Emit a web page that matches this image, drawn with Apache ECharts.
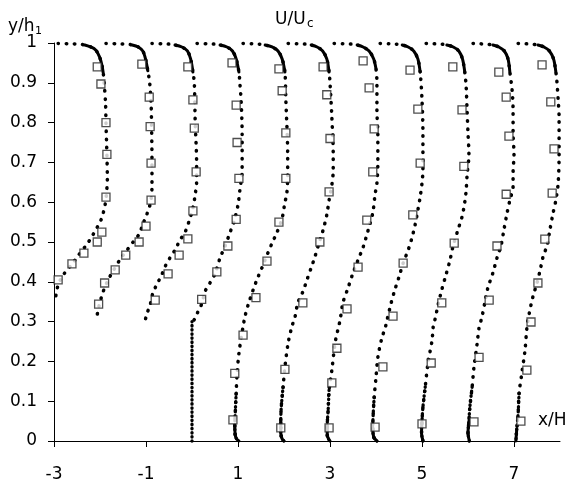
<!DOCTYPE html>
<html>
<head>
<meta charset="utf-8">
<script src="https://cdn.jsdelivr.net/npm/echarts@6/dist/echarts.min.js"></script>
<style>
  html, body { margin: 0; padding: 0; background: #fff; }
  #main { width: 568px; height: 484px; }
</style>
</head>
<body>
<div id="main"></div>
<script>
// measuring stations x/H, each profile is drawn at x = station + U/Uc
const stations = [-3, -2, -1, 0, 1, 2, 3, 4, 5, 6, 7];
const xTicks = [-3, -1, 1, 3, 5, 7];

// computed profiles [U/Uc, y/h1]
const cfdXm3 = [[0.09,0.999],[0.37,0.998],[0.54,0.997],[0.67,0.995],[0.8,0.99],[0.91,0.982],[0.99,0.965],[1.04,0.945],[1.07,0.925],[1.09,0.9],[1.12,0.85],[1.13,0.8],[1.15,0.72],[1.16,0.66],[1.14,0.62],[1.11,0.593],[1.07,0.573],[1.02,0.555],[0.93,0.535],[0.83,0.515],[0.72,0.495],[0.52,0.465],[0.41,0.447],[0.2,0.417],[0.09,0.392],[0.04,0.365],[0.0,0.352]];
const cfdXm2 = [[0.13,0.999],[0.37,0.998],[0.59,0.997],[0.7,0.995],[0.83,0.99],[0.93,0.98],[0.99,0.96],[1.04,0.93],[1.08,0.9],[1.11,0.85],[1.12,0.8],[1.13,0.7],[1.13,0.64],[1.1,0.6],[1.02,0.57],[0.95,0.55],[0.85,0.52],[0.72,0.5],[0.59,0.48],[0.43,0.455],[0.3,0.43],[0.2,0.41],[0.1,0.385],[0.04,0.365],[-0.02,0.34],[-0.05,0.325],[-0.07,0.305]];
const cfdXm1 = [[0.13,0.999],[0.35,0.998],[0.52,0.997],[0.63,0.995],[0.78,0.99],[0.9,0.98],[0.97,0.96],[1.02,0.927],[1.05,0.9],[1.07,0.8],[1.1,0.7],[1.1,0.65],[1.07,0.62],[1.02,0.585],[0.93,0.55],[0.85,0.525],[0.74,0.505],[0.63,0.48],[0.52,0.46],[0.41,0.437],[0.34,0.417],[0.23,0.392],[0.15,0.372],[0.09,0.342],[0.02,0.32],[-0.02,0.302]];
const cfdX0 = [[0.11,0.999],[0.33,0.998],[0.5,0.997],[0.61,0.995],[0.76,0.99],[0.88,0.98],[0.96,0.96],[1.02,0.927],[1.04,0.9],[1.07,0.85],[1.09,0.77],[1.09,0.68],[1.04,0.63],[1.0,0.593],[0.91,0.55],[0.83,0.525],[0.72,0.49],[0.61,0.46],[0.5,0.42],[0.39,0.397],[0.28,0.375],[0.22,0.347],[0.13,0.325],[0.05,0.305],[0.0,0.3]];
const cfdX1 = [[0.11,0.999],[0.3,0.998],[0.48,0.997],[0.59,0.995],[0.74,0.99],[0.87,0.98],[0.96,0.96],[1.02,0.927],[1.04,0.857],[1.07,0.77],[1.08,0.72],[1.08,0.67],[1.06,0.62],[1.02,0.6],[0.96,0.56],[0.85,0.525],[0.74,0.497],[0.63,0.467],[0.52,0.435],[0.41,0.405],[0.33,0.38],[0.22,0.342],[0.15,0.312],[0.11,0.287],[0.07,0.26],[0.02,0.22],[-0.02,0.17],[-0.04,0.12],[-0.06,0.07],[-0.07,0.04],[-0.06,0.015],[-0.03,0.005],[0.02,0.0]];
const cfdX2 = [[0.09,0.999],[0.28,0.998],[0.48,0.997],[0.59,0.995],[0.72,0.99],[0.84,0.98],[0.93,0.96],[0.98,0.927],[1.0,0.9],[1.04,0.814],[1.07,0.72],[1.07,0.68],[1.04,0.643],[0.98,0.605],[0.93,0.568],[0.85,0.53],[0.76,0.497],[0.67,0.462],[0.59,0.435],[0.5,0.405],[0.41,0.375],[0.3,0.347],[0.24,0.312],[0.17,0.287],[0.09,0.246],[0.02,0.186],[-0.02,0.136],[-0.06,0.085],[-0.07,0.05],[-0.07,0.02],[-0.04,0.005],[0.0,0.0]];
const cfdX3 = [[0.09,0.999],[0.28,0.998],[0.48,0.997],[0.59,0.995],[0.72,0.99],[0.85,0.98],[0.95,0.96],[1.0,0.935],[1.02,0.9],[1.02,0.83],[1.04,0.774],[1.04,0.7],[1.02,0.648],[0.98,0.62],[0.93,0.573],[0.83,0.53],[0.72,0.487],[0.61,0.455],[0.5,0.422],[0.39,0.384],[0.28,0.347],[0.22,0.304],[0.17,0.279],[0.11,0.246],[0.04,0.178],[-0.02,0.128],[-0.04,0.078],[-0.06,0.04],[-0.06,0.015],[-0.03,0.005],[0.0,0.0]];
const cfdX4 = [[0.09,0.999],[0.28,0.998],[0.46,0.997],[0.57,0.995],[0.7,0.99],[0.82,0.98],[0.91,0.96],[0.96,0.927],[1.0,0.857],[1.02,0.774],[1.02,0.68],[1.0,0.648],[0.96,0.613],[0.91,0.58],[0.85,0.543],[0.78,0.51],[0.7,0.48],[0.59,0.447],[0.5,0.412],[0.41,0.38],[0.33,0.347],[0.24,0.304],[0.2,0.284],[0.13,0.26],[0.04,0.21],[0.0,0.16],[-0.04,0.11],[-0.06,0.07],[-0.07,0.035],[-0.05,0.01],[0.02,0.0]];
const cfdX5 = [[0.09,0.999],[0.26,0.998],[0.43,0.997],[0.54,0.995],[0.68,0.99],[0.8,0.98],[0.88,0.96],[0.93,0.927],[0.96,0.89],[0.98,0.83],[1.0,0.774],[1.02,0.72],[0.98,0.668],[0.96,0.63],[0.93,0.6],[0.87,0.563],[0.78,0.53],[0.67,0.487],[0.61,0.455],[0.52,0.417],[0.43,0.38],[0.35,0.342],[0.28,0.304],[0.24,0.284],[0.22,0.254],[0.13,0.196],[0.07,0.136],[0.02,0.085],[0.0,0.05],[-0.01,0.02],[0.02,0.0]];
const cfdX6 = [[0.11,0.999],[0.26,0.998],[0.41,0.997],[0.54,0.995],[0.67,0.99],[0.79,0.98],[0.87,0.96],[0.91,0.927],[0.96,0.88],[0.98,0.83],[0.98,0.774],[1.0,0.72],[0.98,0.673],[0.98,0.64],[0.91,0.605],[0.85,0.573],[0.78,0.53],[0.72,0.492],[0.63,0.46],[0.54,0.422],[0.43,0.384],[0.37,0.35],[0.3,0.31],[0.24,0.284],[0.2,0.246],[0.13,0.186],[0.09,0.136],[0.04,0.085],[0.02,0.05],[0.0,0.02],[0.03,0.0]];
const cfdX7 = [[0.09,0.999],[0.26,0.998],[0.39,0.997],[0.52,0.995],[0.65,0.99],[0.77,0.98],[0.86,0.96],[0.91,0.927],[0.93,0.907],[0.96,0.857],[0.98,0.814],[0.98,0.72],[0.96,0.648],[0.91,0.605],[0.85,0.573],[0.78,0.53],[0.72,0.492],[0.63,0.462],[0.57,0.43],[0.5,0.397],[0.41,0.362],[0.33,0.32],[0.28,0.284],[0.24,0.229],[0.17,0.17],[0.11,0.12],[0.09,0.07],[0.06,0.03],[0.04,0.0]];
// vertical face of the step under station 0
const stepWall = [[0, 0.3], [0, 0.0]];

// measured profiles (open squares)
const expXm3 = [[0.94,0.94],[1.02,0.897],[1.13,0.8],[1.15,0.72],[1.13,0.613],[1.04,0.525],[0.94,0.5],[0.65,0.472],[0.39,0.445],[0.09,0.405]];
const expXm2 = [[0.91,0.947],[1.07,0.864],[1.09,0.79],[1.11,0.698],[1.11,0.605],[1.0,0.54],[0.85,0.5],[0.56,0.467],[0.33,0.43],[0.1,0.397],[-0.03,0.344]];
const expXm1 = [[0.91,0.94],[1.02,0.857],[1.05,0.786],[1.09,0.676],[1.02,0.578],[0.91,0.508],[0.72,0.467],[0.48,0.42],[0.2,0.354]];
const expX0 = [[0.87,0.95],[0.96,0.844],[0.98,0.75],[1.02,0.66],[0.96,0.557],[0.78,0.49],[0.54,0.425],[0.21,0.356]];
const expX1 = [[0.89,0.935],[0.96,0.88],[1.04,0.774],[1.04,0.66],[0.89,0.55],[0.63,0.452],[0.39,0.36],[0.11,0.266],[-0.07,0.17],[-0.11,0.053]];
const expX2 = [[0.85,0.94],[0.93,0.87],[1.0,0.76],[0.98,0.626],[0.78,0.5],[0.41,0.347],[0.02,0.18],[-0.07,0.033]];
const expX3 = [[0.72,0.955],[0.85,0.887],[0.96,0.784],[0.93,0.676],[0.8,0.555],[0.61,0.437],[0.37,0.332],[0.15,0.233],[0.04,0.146],[-0.02,0.033]];
const expX4 = [[0.74,0.932],[0.91,0.834],[0.96,0.698],[0.8,0.568],[0.59,0.447],[0.37,0.314],[0.15,0.186],[-0.02,0.035]];
const expX5 = [[0.67,0.94],[0.87,0.832],[0.91,0.69],[0.7,0.497],[0.43,0.347],[0.2,0.196],[0.0,0.043]];
const expX6 = [[0.67,0.927],[0.83,0.864],[0.89,0.766],[0.83,0.62],[0.63,0.49],[0.46,0.354],[0.24,0.21],[0.13,0.048]];
const expX7 = [[0.61,0.945],[0.8,0.852],[0.87,0.734],[0.83,0.623],[0.67,0.507],[0.52,0.397],[0.37,0.299],[0.28,0.178],[0.15,0.05]];

const cfdList = [cfdXm3, cfdXm2, cfdXm1, cfdX0, cfdX1, cfdX2, cfdX3, cfdX4, cfdX5, cfdX6, cfdX7];
const expList = [expXm3, expXm2, expXm1, expX0, expX1, expX2, expX3, expX4, expX5, expX6, expX7];

const shift = (s, list) => list.map(([u, y]) => [s + u, y]);

const lineBase = (data, width, dash) => ({
  type: 'line',
  data: data,
  smooth: 0.3,
  symbol: 'none',
  silent: true,
  clip: false,
  z: 2,
  lineStyle: { color: '#000', width: width, type: dash, cap: 'round', join: 'round' }
});

const series = [];
stations.forEach((s, i) => {
  const pts = shift(s, cfdList[i]);
  series.push(lineBase(pts, 3.5, [0.5, 7.6]));
  // near-wall parts are packed with points
  const nearBed = pts.filter(p => p[1] <= 0.15);
  if (nearBed.length > 1) series.push(lineBase(nearBed, 3.3, [0.5, 4]));
  const bed = pts.filter(p => p[1] <= 0.06);
  if (bed.length > 1) series.push(lineBase(bed, 3, 'solid'));
  const lid = pts.filter(p => p[1] > 0.92 && p[1] < 0.996);
  if (lid.length > 1) series.push(lineBase(lid, 3, 'solid'));

  series.push({
    type: 'scatter',
    data: shift(s, expList[i]),
    symbol: 'rect',
    symbolSize: 8,
    silent: true,
    z: 5,
    itemStyle: { color: '#fff', borderColor: '#222', borderWidth: 1.3 }
  });
});
series.push(lineBase(shift(0, stepWall), 3.3, [0.5, 3.6]));

const font = 'DejaVu Sans';
const txt = (text, x, y, size, align) => ({
  type: 'text', x: x, y: y, silent: true,
  style: { text: text, fill: '#000', font: size + 'px "' + font + '"', textAlign: align || 'left', textVerticalAlign: 'middle' }
});

const chart = echarts.init(document.getElementById('main'), null, { renderer: 'canvas' });
chart.setOption({
  animation: false,
  backgroundColor: '#fff',
  grid: { left: 54, right: 8, top: 43, bottom: 43 },
  xAxis: {
    type: 'value',
    min: -3,
    max: 8,
    splitLine: { show: false },
    axisLine: { onZero: false, lineStyle: { color: '#000', width: 1 } },
    axisTick: { customValues: xTicks, length: 6, lineStyle: { color: '#000' } },
    axisLabel: { customValues: xTicks, margin: 25, color: '#000', fontFamily: font, fontSize: 17 }
  },
  yAxis: {
    type: 'value',
    min: 0,
    max: 1,
    interval: 0.1,
    splitLine: { show: false },
    axisLine: { show: true, onZero: false, lineStyle: { color: '#000', width: 1 } },
    axisTick: { show: true, length: 6, lineStyle: { color: '#000' } },
    axisLabel: { margin: 17, color: '#000', fontFamily: font, fontSize: 17 }
  },
  graphic: [
    txt('U/U', 275, 20, 17),
    txt('c', 307, 24, 12),
    txt('y/h', 8, 27, 17),
    txt('1', 35, 31, 11),
    txt('x/H', 538, 421, 17)
  ],
  series: series
});
</script>
</body>
</html>
